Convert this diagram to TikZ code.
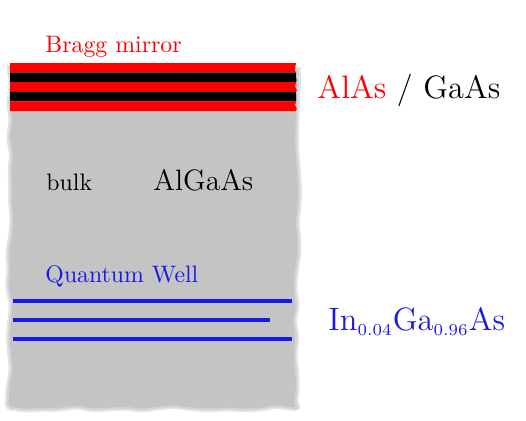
\documentclass[tikz,border=0pt]{standalone}
\usetikzlibrary{decorations.pathmorphing,positioning}
\definecolor{bulkgray}{RGB}{196,196,196}
\definecolor{qwblue}{RGB}{25,25,230}

\begin{document}
\begin{tikzpicture}[
            x=0.42pt, y=-0.42pt,
            rough/.style={decorate, decoration={random steps, segment length=7pt, amplitude=1.1pt}, rounded corners=2pt},
            jagged/.style={decorate, decoration={random steps, segment length=1.5pt, amplitude=0.4pt}},
            soft/.style={preaction={draw=bulkgray!45, line width=2.4pt}, draw=bulkgray!75, line width=0.8pt},
            tag/.style={anchor=base west, inner sep=0pt},
            qwline/.style={draw=qwblue, line width=1.3pt}
        ]
            \useasboundingbox (0,0) rectangle (526,420);
            \pgfmathsetseed{11}
            % bulk AlGaAs
            \fill[bulkgray, soft] (10,70) -- (298,70) decorate[rough]{-- (298,408) -- (10,408) -- (10,70)} -- cycle;
            % Bragg mirror
            \foreach \c [count=\i from 0] in {red,black,red,black,red}
                \fill[\c] (10,{63+9.6*\i}) -- (296,{63+9.6*\i}) decorate[jagged]{-- (296,{72.6+9.6*\i})} -- (10,{72.6+9.6*\i}) -- cycle;
            % quantum wells
            \draw[qwline] (13,301) -- (292,301);
            \draw[qwline] (13,320) -- (270,320);
            \draw[qwline] (13,339) -- (292,339);

            \node[tag, text=red] (bragg) at (45,52) {Bragg mirror};
            \node[tag, font=\fontsize{13.6}{16}\selectfont] (layers) at (317,98) {\textcolor{red}{AlAs} / GaAs};
            \node[tag] (bulk) at (46,190) {bulk};
            \node[tag, font=\fontsize{12.4}{15}\selectfont] (algaas) at (153,190) {AlGaAs};
            \node[tag, text=qwblue] (qw) at (45,282) {Quantum Well};
            \node[tag, text=qwblue, font=\fontsize{13.6}{16}\selectfont] (ingaas) at (328,330) {In$_{\scriptscriptstyle 0.04}$Ga$_{\scriptscriptstyle 0.96}$As};
        \end{tikzpicture}
\end{document}
